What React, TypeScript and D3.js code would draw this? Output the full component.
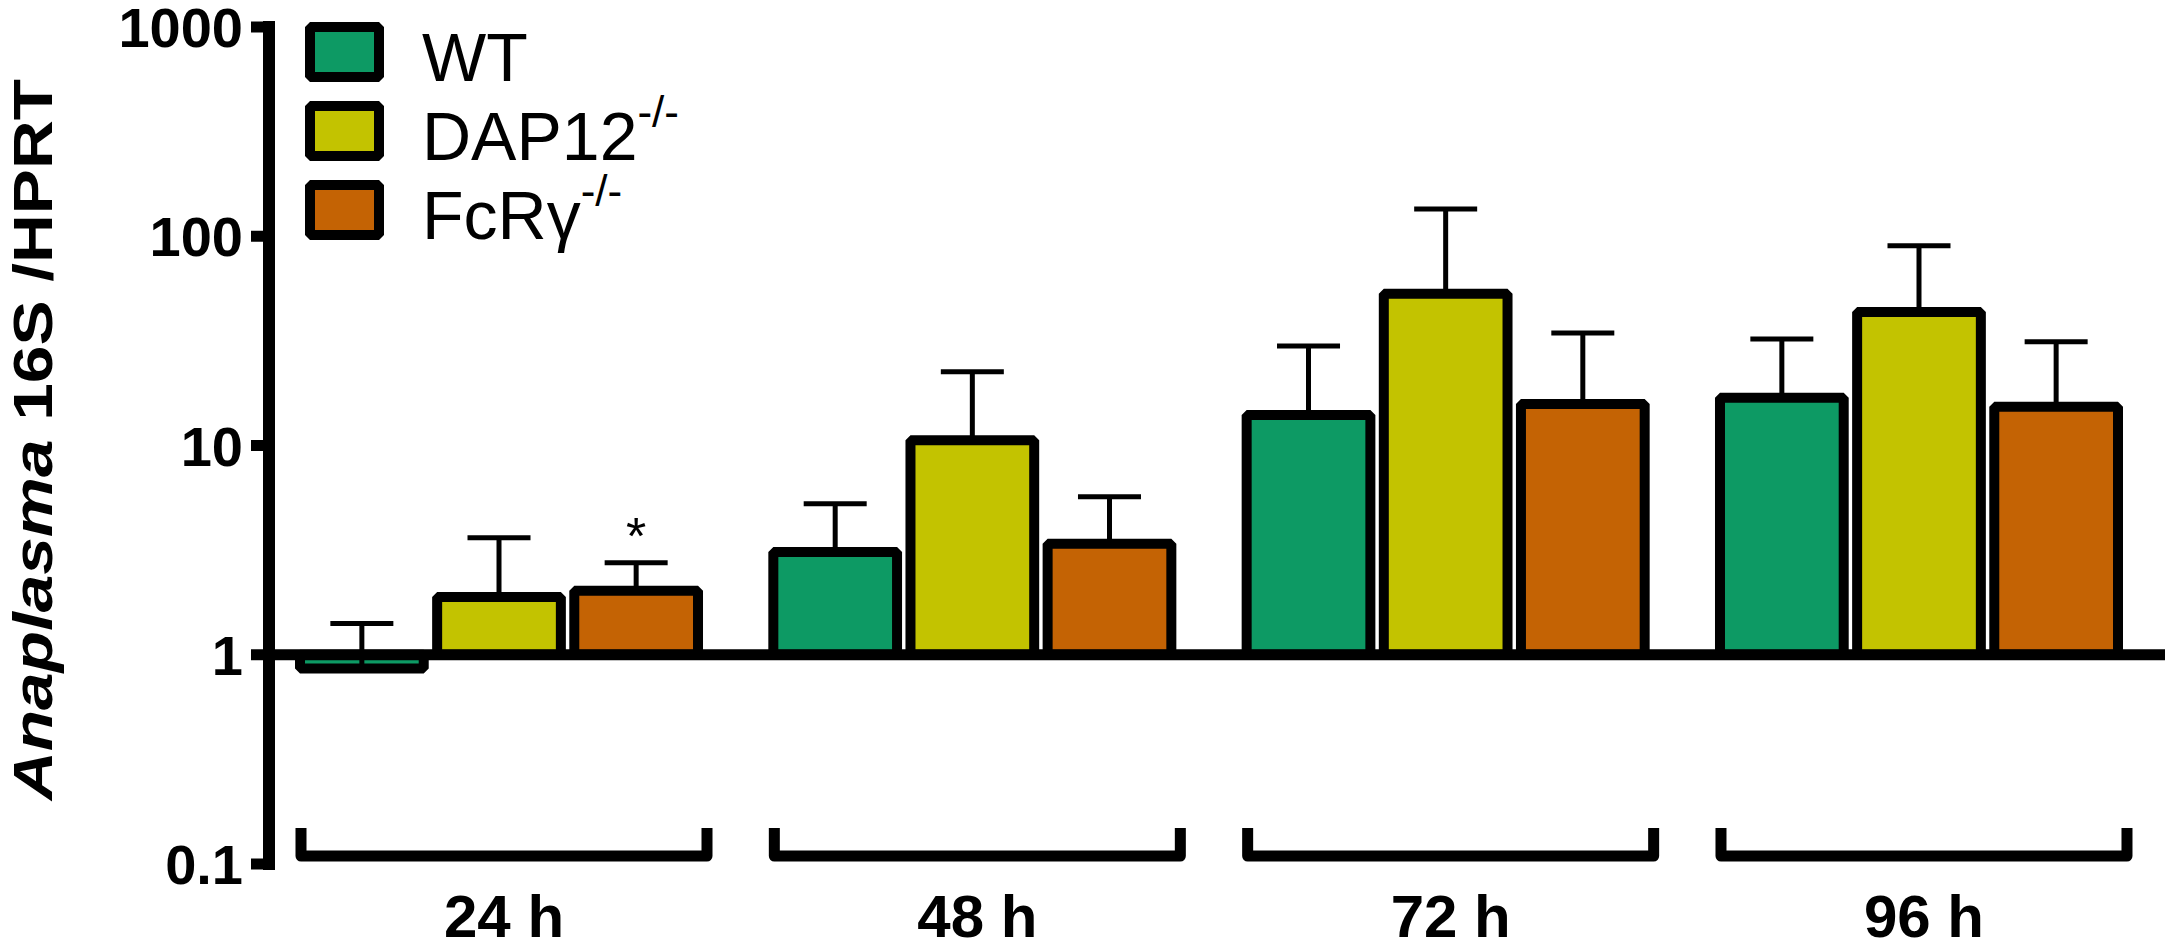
import React from 'react';
import * as d3 from 'd3';

const groups = ['24 h', '48 h', '72 h', '96 h'];
const series = ['WT', 'DAP12', 'FcRγ'];
const seriesSup = ['', '-/-', '-/-'];
const wtMean = [0.86, 3.1, 14.0, 16.9];
const wtSem = [0.55, 2.17, 15.9, 15.4];
const dapMean = [1.89, 10.6, 53.1, 43.5];
const dapSem = [1.73, 11.9, 82, 46.5];
const fcrMean = [2.02, 3.39, 15.8, 15.3];
const fcrSem = [0.73, 2.3, 18.7, 16.0];
const yTicks = [0.1, 1, 10, 100, 1000];
const yTickLabels = ['0.1', '1', '10', '100', '1000'];
const colors = ['#0d9a64', '#c3c300', '#c46304'];
const marks = [{ group: '24 h', s: 2, label: '*' }];

const means = [wtMean, dapMean, fcrMean];
const sems = [wtSem, dapSem, fcrSem];

const W = 2165;
const H = 946;
const FONT = '"Liberation Sans", Arial, Helvetica, sans-serif';

export default function App() {
  const y = d3.scaleLog().domain([0.1, 1000]).range([864, 27]);
  const x0 = d3.scaleBand<string>().domain(groups).range([295, 2123]).paddingInner(0.138).paddingOuter(0);
  const x1 = d3.scaleBand<string>().domain(series).range([0, x0.bandwidth()]).paddingInner(0.025).paddingOuter(0);
  const bw = x1.bandwidth();
  const axisX = 269;
  const barStroke = 10;

  const bars: any[] = [];
  const errs: any[] = [];
  groups.forEach((g, gi) => {
    series.forEach((s, si) => {
      const v = means[si][gi];
      const e = sems[si][gi];
      const bx = (x0(g) as number) + (x1(s) as number);
      const top = y(Math.max(v, 1));
      const bot = y(Math.min(v, 1));
      bars.push(
        <rect key={`b${gi}${si}`} x={bx + barStroke / 2} y={top} width={bw - barStroke} height={bot - top}
          fill={colors[si]} stroke="#000" strokeWidth={barStroke} strokeLinejoin="bevel" />
      );
      const cx = bx + bw / 2;
      const yu = y(v + e);
      errs.push(
        <g key={`e${gi}${si}`} stroke="#000" strokeWidth={5}>
          <line x1={cx} x2={cx} y1={y(v)} y2={yu} />
          <line x1={cx - 31.5} x2={cx + 31.5} y1={yu} y2={yu} />
        </g>
      );
    });
  });

  return (
    <svg width={W} height={H} viewBox={`0 0 ${W} ${H}`}
      style={{ position: 'absolute', left: 0, top: 0, background: '#fff' }}
      fontFamily={FONT}>
      <rect x={0} y={0} width={W} height={H} fill="#fff" />
      {/* y-axis title */}
      <text transform={`translate(52, 439.5) rotate(-90)`} textAnchor="middle" fontSize={55} fontWeight="bold"
        textLength={721} lengthAdjust="spacingAndGlyphs">
        <tspan fontStyle="italic">Anaplasma</tspan> 16S /HPRT
      </text>
      {/* y axis */}
      <line x1={axisX} x2={axisX} y1={y(1000) - 6} y2={y(0.1) + 6} stroke="#000" strokeWidth={12} />
      {yTicks.map((t, i) => (
        <g key={`t${i}`}>
          <line x1={251} x2={axisX} y1={y(t)} y2={y(t)} stroke="#000" strokeWidth={11} />
          <text x={243} y={y(t) + 20} textAnchor="end" fontSize={56} fontWeight="bold">{yTickLabels[i]}</text>
        </g>
      ))}
      {bars}
      {errs}
      {marks.map((m, i) => {
        const gi = groups.indexOf(m.group);
        const cx = (x0(m.group) as number) + (x1(series[m.s]) as number) + bw / 2;
        const yu = y(means[m.s][gi] + sems[m.s][gi]);
        return <text key={`m${i}`} x={cx} y={yu - 9} textAnchor="middle" fontSize={52}>{m.label}</text>;
      })}
      {/* baseline at 1 */}
      <line x1={axisX} x2={W} y1={y(1)} y2={y(1)} stroke="#000" strokeWidth={11} />
      {/* group brackets and labels */}
      {groups.map((g) => {
        const gx = x0(g) as number;
        const a = gx + 6;
        const b = gx + 412;
        return (
          <g key={`br${g}`}>
            <path d={`M${a},828 V856 H${b} V828`} fill="none" stroke="#000" strokeWidth={11} strokeLinejoin="round" />
            <text x={(a + b) / 2} y={937} textAnchor="middle" fontSize={60} fontWeight="bold">{g}</text>
          </g>
        );
      })}
      {/* legend */}
      {series.map((s, i) => (
        <g key={`l${i}`}>
          <rect x={310} y={27 + i * 79} width={69} height={50} fill={colors[i]} stroke="#000" strokeWidth={10} strokeLinejoin="bevel" />
          <text x={422} y={81 + i * 79} fontSize={68}>
            {s}
            {seriesSup[i] ? <tspan fontSize={44} dy={-33}>{seriesSup[i]}</tspan> : null}
          </text>
        </g>
      ))}
    </svg>
  );
}
